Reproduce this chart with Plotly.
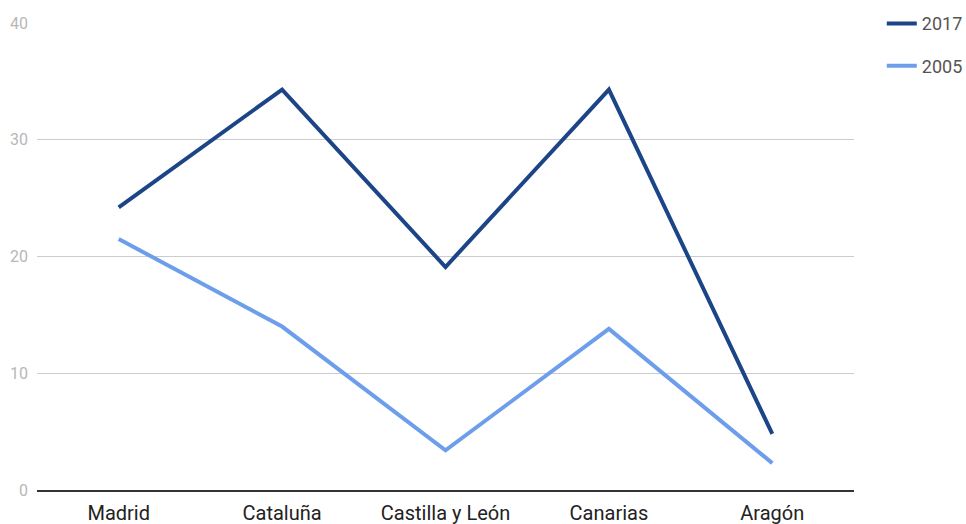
import plotly.graph_objects as go

categories = ["Madrid", "Cataluña", "Castilla y León", "Canarias", "Aragón"]
values_2017 = [24.2, 34.3, 19.1, 34.3, 4.8]
values_2005 = [21.5, 14.0, 3.4, 13.8, 2.3]
y_ticks = [0, 10, 20, 30, 40]

fig = go.Figure()
fig.add_trace(go.Scatter(x=categories, y=values_2017, mode="lines", name="2017",
                         legendgroup="a",
                         line=dict(color="#1c4587", width=4)))
fig.add_trace(go.Scatter(x=categories, y=values_2005, mode="lines", name="2005",
                         legendgroup="b",
                         line=dict(color="#6d9eeb", width=4)))

fig.update_layout(
    width=966, height=524,
    margin=dict(l=37, r=112, t=23, b=34, autoexpand=False),
    paper_bgcolor="white", plot_bgcolor="white",
    font=dict(family="Roboto", color="#222222"),
    legend=dict(x=1.034, y=1.038, xanchor="left", yanchor="top",
                font=dict(size=18, color="#555555"),
                tracegroupgap=16, itemwidth=30),
    xaxis=dict(range=[-0.5, 4.5], showgrid=False, showline=True, linecolor="#333333",
               linewidth=2, ticks="", tickfont=dict(size=20, color="#222222"),
               ticklabelstandoff=4),
    yaxis=dict(range=[0, 40], tickvals=y_ticks, showgrid=True, gridcolor="#cccccc",
               gridwidth=1, zeroline=False, showline=False,
               tickfont=dict(size=16, color="#b7b7b7"), ticklabelstandoff=8),
    showlegend=True,
)
fig.write_html(
    "out.html",
    config={"displayModeBar": False},
    post_script="document.body.style.margin='0';document.body.style.overflow='hidden';"
                "document.documentElement.style.overflow='hidden';",
)
